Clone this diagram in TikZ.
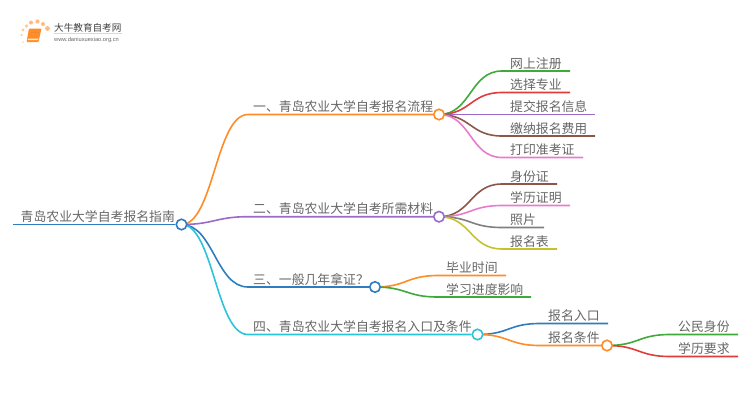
\documentclass[tikz,border=0pt]{standalone}
\usepackage{fontspec}
\setmainfont{Noto Sans CJK SC}
\newfontfamily\latinfont{Liberation Sans}
\pgfdeclarelayer{bg}
\pgfsetlayers{bg,main}
\definecolor{cOrange}{HTML}{FF8C26}
\definecolor{cPurple}{HTML}{9B6BC8}
\definecolor{cBlue}{HTML}{2E7DBF}
\definecolor{cCyan}{HTML}{2BC4D8}
\definecolor{cGreen}{HTML}{3DAA3A}
\definecolor{cRed}{HTML}{E03C3C}
\definecolor{cBrown}{HTML}{8C564B}
\definecolor{cPink}{HTML}{E87CCB}
\definecolor{cGrey}{HTML}{808080}
\definecolor{cOlive}{HTML}{C4C32C}
\definecolor{cText}{HTML}{666666}
\tikzset{
  x=1pt,y=-1pt,
  hub/.style={circle,draw=#1,fill=white,line width=1.6pt,minimum size=10.5pt,inner sep=0pt},
  lab/.style={anchor=base west,inner sep=0pt,text=cText,font=\fontsize{12.85}{13}\selectfont},
  wire/.style={draw=#1,line width=1.6pt},
  rootwire/.style={draw=#1,line width=1.7pt},
  spark/.style={fill=#1,draw=none}
}
\newcommand{\branch}[5]{% colour, from, flat-start, end, dx
  \draw[wire=#1] (#2) .. controls +(#5,0) and +(-#5,0) .. (#3) -- (#4);}
\begin{document}
\begin{tikzpicture}
\useasboundingbox (0,0) rectangle (750,410);
% hubs
\coordinate (rs) at (13,224.5);
\node[hub=cBlue] (root) at (181.5,224.5) {};
\node[hub=cOrange] (h1) at (439,114.5) {};
\node[hub=cPurple] (h2) at (439,216.7) {};
\node[hub=cBlue] (h3) at (375,287) {};
\node[hub=cCyan] (h4) at (477.5,334.5) {};
\node[hub=cOrange] (h42) at (607,345.5) {};
% labels
\node[lab] (t0) at (20.5,221.5) {青岛农业大学自考报名指南};
\node[lab] (t1) at (253,111.5) {一、青岛农业大学自考报名流程};
\node[lab] (t2) at (253,213.7) {二、青岛农业大学自考所需材料};
\node[lab] (t3) at (253,284) {三、一般几年拿证？};
\node[lab] (t4) at (253,331.5) {四、青岛农业大学自考报名入口及条件};
\node[lab] (a1) at (510,68) {网上注册};
\node[lab] (a2) at (510,89.5) {选择专业};
\node[lab] (a3) at (510,111.5) {提交报名信息};
\node[lab] (a4) at (510,133) {缴纳报名费用};
\node[lab] (a5) at (510,154.5) {打印准考证};
\node[lab] (b1) at (510,181) {身份证};
\node[lab] (b2) at (510,202.5) {学历证明};
\node[lab] (b3) at (510,224.5) {照片};
\node[lab] (b4) at (510,246) {报名表};
\node[lab] (c1) at (446,272.5) {毕业时间};
\node[lab] (c2) at (446,294) {学习进度影响};
\node[lab] (d1) at (548,320.5) {报名入口};
\node[lab] (d2) at (548,342.5) {报名条件};
\node[lab] (e1) at (678,331.5) {公民身份};
\node[lab] (e2) at (678,353.5) {学历要求};
% flat-run starts and free ends
\coordinate (s1) at (248,114.5); \coordinate (s2) at (248,216.7);
\coordinate (s3) at (248,287); \coordinate (s4) at (248,334.5);
\coordinate (a1s) at (502,71); \coordinate (a1e) at (570,71);
\coordinate (a2s) at (502,92.5); \coordinate (a2e) at (570,92.5);
\coordinate (a3s) at (502,114.5); \coordinate (a3e) at (595,114.5);
\coordinate (a4s) at (502,136); \coordinate (a4e) at (595,136);
\coordinate (a5s) at (502,157.5); \coordinate (a5e) at (583,157.5);
\coordinate (b1s) at (502,184); \coordinate (b1e) at (557,184);
\coordinate (b2s) at (502,205.5); \coordinate (b2e) at (570,205.5);
\coordinate (b3s) at (502,227.5); \coordinate (b3e) at (544,227.5);
\coordinate (b4s) at (502,249); \coordinate (b4e) at (557,249);
\coordinate (c1s) at (438,275.5); \coordinate (c1e) at (506,275.5);
\coordinate (c2s) at (438,297); \coordinate (c2e) at (531,297);
\coordinate (d1s) at (540,323.5); \coordinate (d1e) at (608,323.5);
\coordinate (d2s) at (540,345.5);
\coordinate (e1s) at (670,334.5); \coordinate (e1e) at (738,334.5);
\coordinate (e2s) at (670,356.5); \coordinate (e2e) at (738,356.5);
\begin{pgfonlayer}{bg}
\draw[rootwire=cBlue] (rs) -- (root);
\branch{cOrange}{root.center}{s1}{h1}{32}
\branch{cPurple}{root.center}{s2}{h2}{32}
\branch{cBlue}{root.center}{s3}{h3}{32}
\branch{cCyan}{root.center}{s4}{h4}{32}
\branch{cGreen}{h1.center}{a1s}{a1e}{32}
\branch{cRed}{h1.center}{a2s}{a2e}{32}
\branch{cPurple}{h1.center}{a3s}{a3e}{32}
\branch{cBrown}{h1.center}{a4s}{a4e}{32}
\branch{cPink}{h1.center}{a5s}{a5e}{32}
\branch{cBrown}{h2.center}{b1s}{b1e}{32}
\branch{cPink}{h2.center}{b2s}{b2e}{32}
\branch{cGrey}{h2.center}{b3s}{b3e}{32}
\branch{cOlive}{h2.center}{b4s}{b4e}{32}
\branch{cOrange}{h3.center}{c1s}{c1e}{32}
\branch{cGreen}{h3.center}{c2s}{c2e}{32}
\branch{cBlue}{h4.center}{d1s}{d1e}{32}
\branch{cOrange}{h4.center}{d2s}{h42}{32}
\branch{cGreen}{h42.center}{e1s}{e1e}{32}
\branch{cRed}{h42.center}{e2s}{e2e}{32}
\end{pgfonlayer}
% logo
\fill[spark=cOrange!45] (21.5,35) circle (1.2) (23,30) circle (1.6) (26.5,26) circle (1.8);
\fill[spark=cOrange!60] (31,22.5) circle (2) (37.5,21.5) circle (2.1) (43,24) circle (2) (47.5,28.5) circle (2.4);
\fill[spark=cOrange!30] (23,42) circle (1);
\fill[cOrange,rounded corners=1pt] (29,28.5) -- (41.5,28.5) -- (38.5,42) -- (26.5,42) -- cycle;
\fill[white!80!cOrange] (28,38.5) -- (38.6,38.5) -- (38.1,40.2) -- (27.6,40.2) -- cycle;
\draw[cOrange!70!brown,line width=.5pt] (30.5,32) -- (38.5,32);
\node[anchor=base west,inner sep=0pt,text=black!75,font=\fontsize{9.6}{10}\selectfont] (lg1) at (54,31) {大牛教育自考网};
\draw[black!15,line width=.5pt] (54,33.5) -- (122,33.5);
\node[anchor=base west,inner sep=0pt,text=black!60,font=\latinfont\fontsize{5.7}{6}\selectfont] (lg2) at (54,41) {www.daniuxuexiao.org.cn};
\end{tikzpicture}
\end{document}
